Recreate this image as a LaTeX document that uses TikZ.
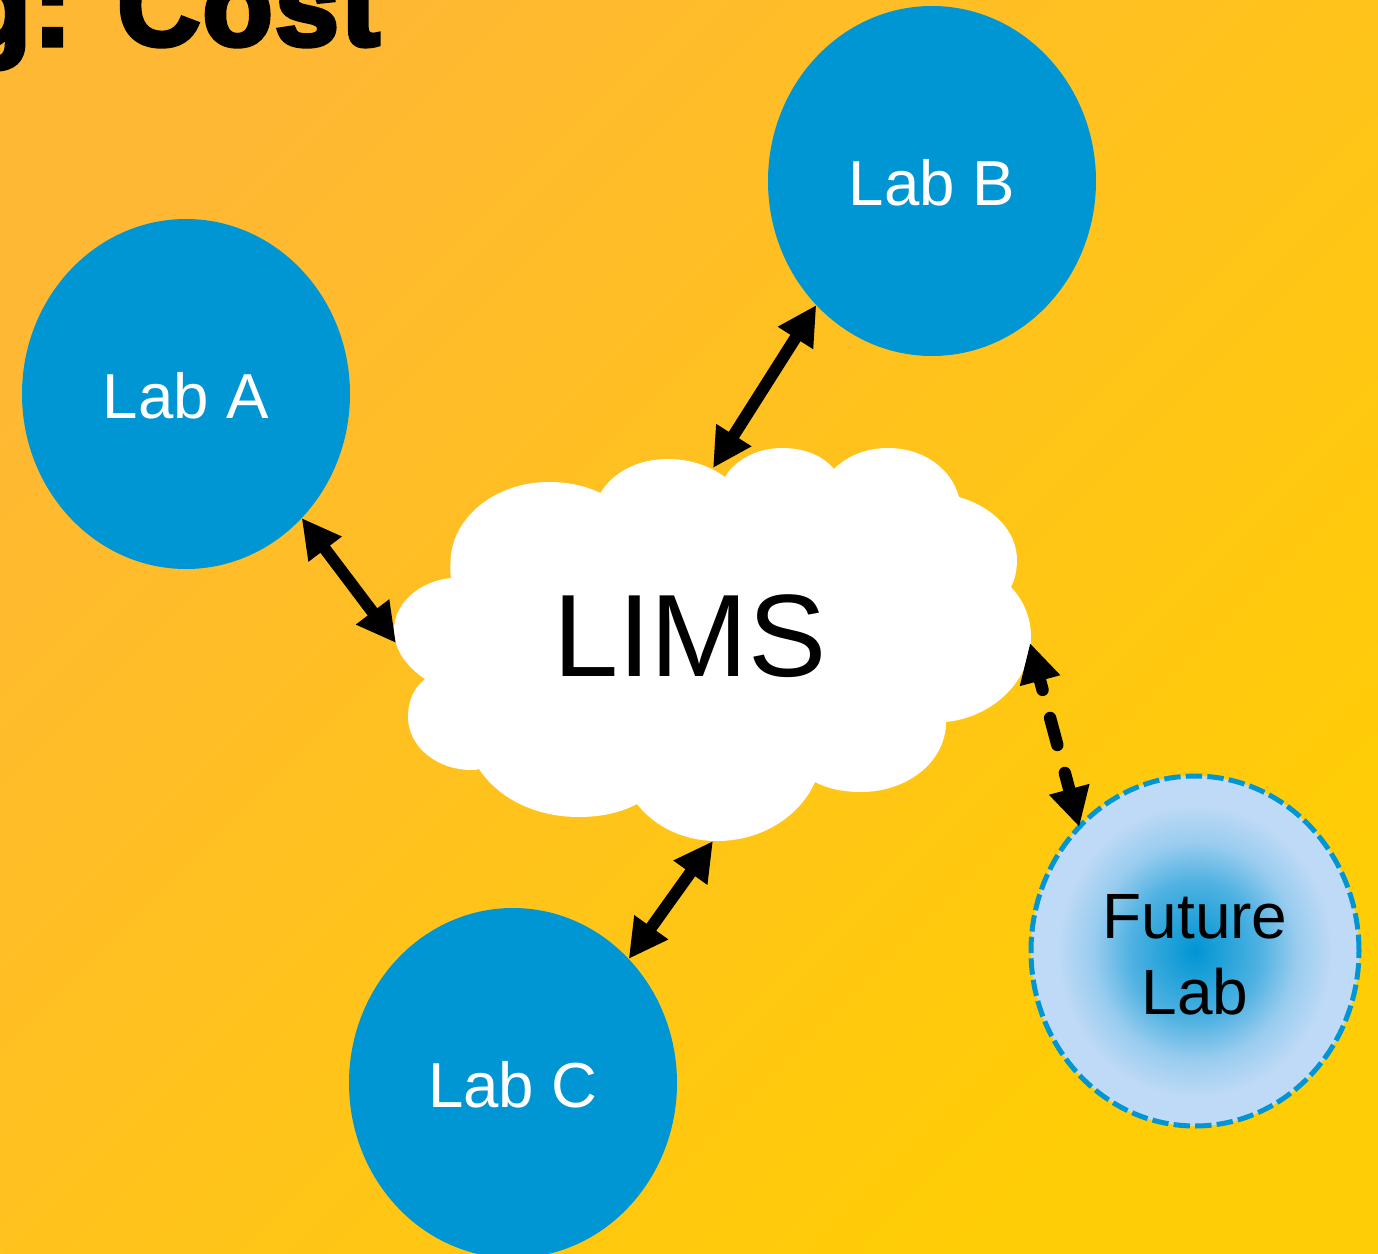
\documentclass[tikz,border=0pt]{standalone}
\usepackage{fontspec}
\setmainfont{Liberation Sans}
\newfontfamily\blackfont[FakeBold=4.5,LetterSpace=2.5]{Liberation Sans Bold}
\usetikzlibrary{arrows.meta,shapes.geometric}
\definecolor{labblue}{HTML}{0095D3}
\definecolor{fadeblue}{HTML}{BFDAF6}
\definecolor{bgA}{HTML}{FFB833}
\definecolor{bgB}{HTML}{FFC81E}
\definecolor{bgC}{HTML}{FFCD05}
\pgfdeclareradialshading{futureshade}{\pgfpointorigin}{%
 color(0bp)=(labblue); color(10bp)=(labblue!58!fadeblue); color(15.5bp)=(labblue!20!fadeblue); color(21bp)=(fadeblue); color(50bp)=(fadeblue)}
\tikzset{
 x=0.5pt,y=-0.5pt,
 lab/.style={ellipse,fill=labblue,text=white,minimum width=164pt,minimum height=175pt,inner sep=0pt,outer sep=0pt,
   font=\fontsize{31.8}{38}\selectfont,text height=24pt,text depth=0pt,align=center},
 future/.style={ellipse,shading=futureshade,draw=labblue,line width=2.5pt,dash pattern=on 8.2pt off 2.6pt,text=black,
   minimum width=164pt,minimum height=175pt,inner sep=0pt,outer sep=0pt,
   font=\fontsize{32}{38}\selectfont,align=center},
 link/.style={line width=6pt,{Triangle[length=19.5pt,width=19.5pt]}-{Triangle[length=19.5pt,width=19.5pt]},shorten <=0pt,shorten >=0pt},
 dashlink/.style={link,line width=6.2pt,line cap=round,dash pattern=on 14pt off 14.5pt,dash phase=8pt},
}
\begin{document}
\begin{tikzpicture}
\useasboundingbox (0,0) rectangle (1378,1254);
\clip (0,0) rectangle (1378,1254);
\shade[shading=axis,top color=bgA,middle color=bgB,bottom color=bgC,shading angle=45] (0,0) rectangle (1378,1254);
\node[anchor=base east,font=\fontsize{57}{60}\selectfont\blackfont,inner sep=0pt] (title) at (380,45) {g: Cost};
\fill[white] (451,578) .. controls (450,572) and (450.5,568) .. (450.5,563)
 .. controls (450.5,518) and (495,482) .. (549,482)
 .. controls (568,482) and (586,486) .. (600.5,493)
 .. controls (613,472) and (638,459) .. (668,459)
 .. controls (690,459) and (710,466) .. (725,477)
 .. controls (735,460) and (757,448) .. (782,448)
 .. controls (805,448) and (823,456) .. (834,469)
 .. controls (847,456) and (866,448) .. (888,448)
 .. controls (923,448) and (951,468) .. (959,497)
 .. controls (993,507) and (1017,531) .. (1017,560)
 .. controls (1017,570) and (1015,579) .. (1011,587)
 .. controls (1024,601) and (1031,618) .. (1031,637)
 .. controls (1031,681) and (993,717) .. (946,722)
 .. controls (946,762) and (907,792) .. (861,792)
 .. controls (844,792) and (828,789) .. (815,782)
 .. controls (800,816) and (762,841) .. (717,841)
 .. controls (684,841) and (655,827) .. (637,804)
 .. controls (620,813) and (600,817) .. (579,817)
 .. controls (536,817) and (499,799) .. (479,769)
 .. controls (477,770) and (474,770) .. (472,770)
 .. controls (436,770) and (408,746) .. (408,717)
 .. controls (408,700) and (414,688) .. (425,679)
 .. controls (407,667) and (394,650) .. (394,630)
 .. controls (394,603) and (420,581) .. (451,578) -- cycle;
\node[font=\fontsize{58.6}{60}\selectfont,inner sep=0pt] (lims) at (690,636) {LIMS};
\node[lab] (labA) at (186,394) {Lab A};
\node[lab] (labB) at (932,181) {Lab B};
\node[lab] (labC) at (513,1083) {Lab C};
\node[future] (futureLab) at (1195,951) {\rule{0pt}{26pt}Future\\Lab};
\coordinate (cloudW) at (396,643);
\coordinate (cloudN) at (713,468);
\coordinate (cloudS) at (713,841);
\coordinate (cloudE) at (1030,643);
\draw[link] (labA.-47) -- (cloudW);
\draw[link] (labB.227) -- (cloudN);
\draw[link] (labC.47) -- (cloudS);
\draw[dashlink] (cloudE) -- (futureLab.133);
\end{tikzpicture}
\end{document}
